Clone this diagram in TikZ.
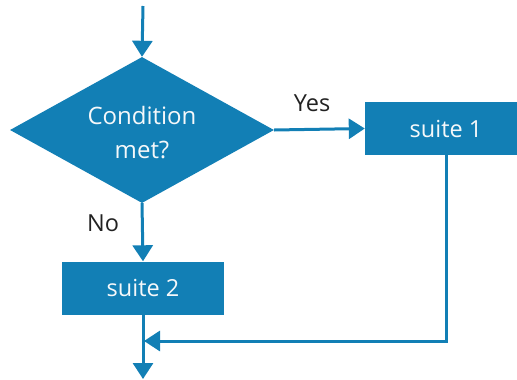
\documentclass[tikz,border=0pt]{standalone}
\usepackage{fontspec}
\setmainfont{Open Sans}
\usetikzlibrary{shapes.geometric,arrows.meta}
\definecolor{flowblue}{RGB}{18,127,181}
\definecolor{labelgray}{RGB}{34,34,34}
\definecolor{boxtext}{RGB}{245,248,250}
\tikzset{
  flowline/.style={draw=flowblue,line width=3pt,-{Triangle[length=16pt,width=20pt]}},
  decision/.style={diamond,fill=flowblue,text=boxtext,inner sep=0pt,aspect=1.81,minimum width=264pt,minimum height=146pt,font=\fontsize{24}{30}\selectfont},
  suitebox/.style={rectangle,fill=flowblue,text=boxtext,inner sep=0pt,minimum width=162pt,minimum height=53pt,font=\fontsize{23.5}{28}\selectfont},
  branchlabel/.style={text=labelgray,inner sep=0pt,font=\fontsize{23.5}{28}\selectfont}
}
\begin{document}
\begin{tikzpicture}[x=1pt,y=-1pt]
\useasboundingbox (0,0) rectangle (517,380);
\clip (0,0) rectangle (517,380);
\coordinate (start) at (143,6);
\node[decision] (cond) at (142,130) {\raisebox{-5pt}[\height][\depth]{\begin{tabular}{@{}c@{}}Condition\\[4pt]met?\end{tabular}}};
\node[suitebox] (s1) at (446,128.5) {suite 1};
\node[suitebox] (s2) at (143,288) {suite 2};
\coordinate (join) at (144,341);
\coordinate (stop) at (143,379);
\node[branchlabel] (yes) at (312,103) {Yes};
\node[branchlabel] (no) at (103,223) {No};
\draw[flowline] (start) -- (cond.north);
\draw[flowline] (cond.east) -- (s1.west);
\draw[flowline] (cond.south) -- (s2.north);
\draw[flowline] (s2.south) -- (stop);
\draw[flowline] (s1.south) |- (join);
\end{tikzpicture}
\end{document}
